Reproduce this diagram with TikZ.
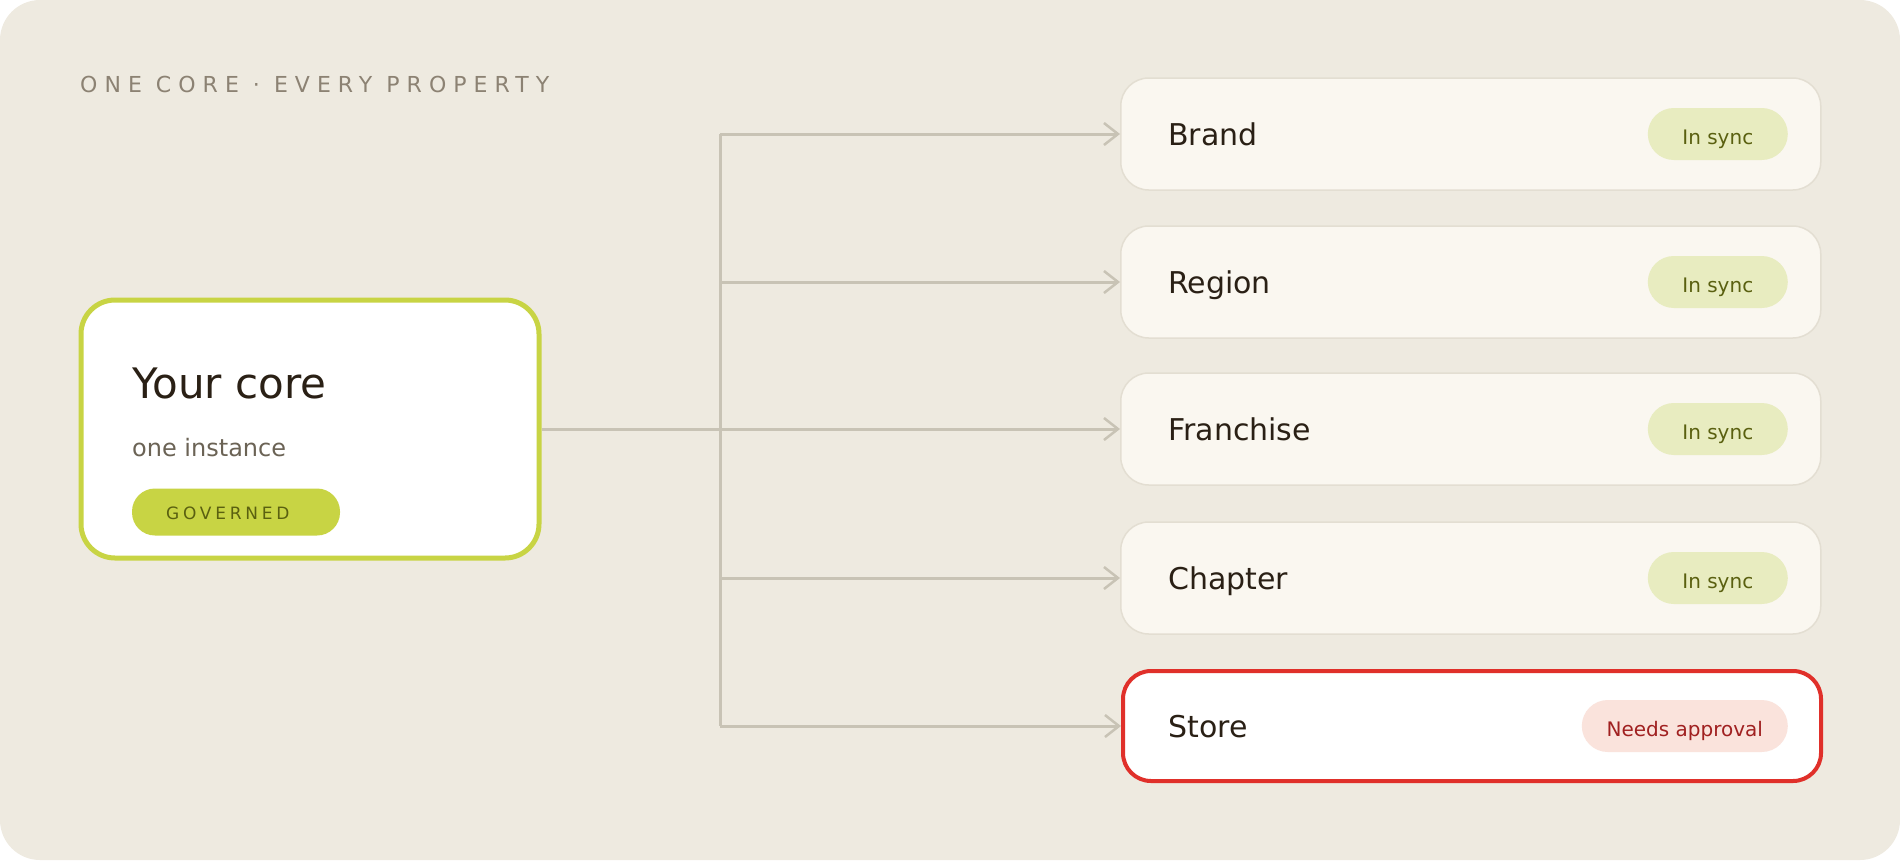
\documentclass[tikz,border=0pt]{standalone}
\usepackage{fontspec}
\setmainfont{DejaVu Sans}
\newfontfamily\spaced[LetterSpace=32]{DejaVu Sans}
\newfontfamily\spacedb[LetterSpace=22]{DejaVu Sans}
\usetikzlibrary{arrows.meta}
\definecolor{bg}{HTML}{EEEAE0}
\definecolor{lime}{HTML}{C8D444}
\definecolor{conn}{HTML}{C8C3B5}
\definecolor{cardfill}{HTML}{FAF7F0}
\definecolor{cardline}{HTML}{E3DED2}
\definecolor{ink}{HTML}{2A2015}
\definecolor{muted}{HTML}{6B6355}
\definecolor{title}{HTML}{8C8273}
\definecolor{syncfill}{HTML}{E8ECC0}
\definecolor{synctext}{HTML}{5A6010}
\definecolor{redline}{HTML}{E0302A}
\definecolor{redfill}{HTML}{FAE3DC}
\definecolor{redtext}{HTML}{A02020}
\tikzset{
  card/.style={draw=cardline,line width=1.5pt,fill=cardfill,rounded corners=28pt,minimum width=700pt,minimum height=112pt,anchor=west,inner sep=0},
  cardlbl/.style={anchor=base west,font=\fontsize{30}{36}\selectfont,text=ink,inner sep=0},
  pill/.style={rounded corners=26pt,minimum height=52pt,anchor=east,inner sep=0,text height=20pt,text depth=0pt,font=\fontsize{20}{24}\selectfont},
  sync/.style={pill,fill=syncfill,text=synctext,minimum width=140pt},
  conn/.style={draw=conn,line width=3pt},
  arr/.style={conn,-{Straight Barb[length=14pt,width=22pt,line width=2.5pt]}}
}
\begin{document}
\begin{tikzpicture}[x=1pt,y=-1pt]
\fill[bg,rounded corners=40pt] (0,0) rectangle (1900,860);
\useasboundingbox (0,0) rectangle (1900,860);
\node[anchor=base west,inner sep=0,text=title,font=\spaced\fontsize{22}{26}\selectfont] (ttl) at (80,92) {ONE CORE · EVERY PROPERTY};
\node[draw=lime,line width=5pt,fill=white,rounded corners=34pt,minimum width=458pt,minimum height=258pt,inner sep=0] (core) at (310,429) {};
\node[anchor=base west,inner sep=0,text=ink,font=\fontsize{42}{48}\selectfont] (ct) at (132,398) {Your core};
\node[anchor=base west,inner sep=0,text=muted,font=\fontsize{24}{28}\selectfont] (cs) at (132,456) {one instance};
\node[fill=lime,rounded corners=23pt,minimum width=208pt,minimum height=47pt,inner sep=0] (gov) at (236,512) {};
\node[anchor=base west,inner sep=0,text=synctext,font=\spacedb\fontsize{17}{22}\selectfont] (govt) at (166,519) {GOVERNED};
\coordinate (jtop) at (720,134);
\coordinate (jmid) at (720,429);
\coordinate (jbot) at (720,726);
\coordinate (j2) at (720,282);
\coordinate (j4) at (720,578);
\foreach \n/\y/\t in {brand/134/Brand,region/282/Region,fr/429/Franchise,ch/578/Chapter}{
  \node[card] (\n) at (1120,\y) {};
  \node[cardlbl] (\n l) at (1168,\y+11) {\t};
  \node[sync] (\n p) at (1788,\y) {In sync};
}
\node[card,fill=white,draw=redline,line width=4pt,minimum width=698pt,minimum height=110pt] (store) at (1121,726) {};
\node[cardlbl] (storel) at (1168,737) {Store};
\node[pill,fill=redfill,text=redtext,minimum width=206pt] (storep) at (1788,726) {Needs approval};
\draw[conn] (core.east) -- (jmid);
\draw[conn] (jtop) -- (jbot);
\draw[arr] (jtop) -- (brand.west);
\draw[arr] (j2) -- (region.west);
\draw[arr] (jmid) -- (fr.west);
\draw[arr] (j4) -- (ch.west);
\draw[arr] (jbot) -- (store.west);
\end{tikzpicture}
\end{document}
